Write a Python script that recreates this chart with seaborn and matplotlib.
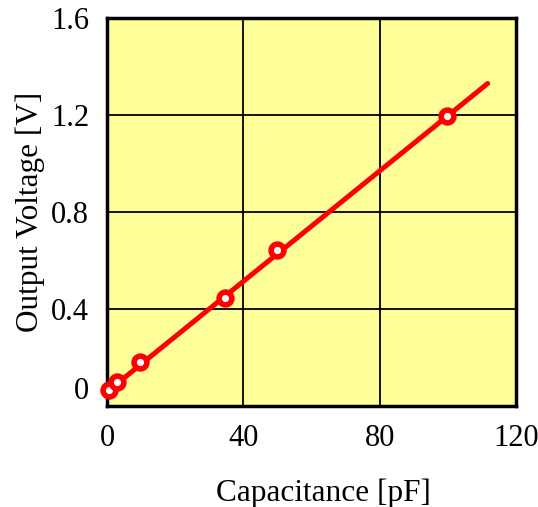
import matplotlib
matplotlib.use("Agg")
import matplotlib.pyplot as plt
import matplotlib.transforms as mtransforms
import seaborn as sns
import pandas as pd

# Data
capacitance = [0.6, 2.9, 9.7, 34.6, 49.9, 99.7]
voltage = [0.066, 0.10, 0.18, 0.445, 0.643, 1.196]
fit_x = [0.6, 111.7]
fit_y = [0.066, 1.33]
x_ticks = [0, 40, 80, 120]
y_ticks = [0, 0.4, 0.8, 1.2, 1.6]
y_tick_labels = ["0", "0.4", "0.8", "1.2", "1.6"]

sns.set_style("white")
plt.rcParams['font.family'] = ['Liberation Serif', 'DejaVu Serif']
plt.rcParams['text.color'] = 'black'
plt.rcParams['axes.labelcolor'] = 'black'

fig = plt.figure(figsize=(5.38, 5.07), dpi=100)
ax = fig.add_axes([0.199, 0.199, 0.760, 0.7655])
ax.set_facecolor("#FFFF99")

pts = pd.DataFrame({"x": capacitance, "y": voltage})
fit = pd.DataFrame({"x": fit_x, "y": fit_y})

sns.lineplot(data=fit, x="x", y="y", ax=ax, color="#FF0000", linewidth=3.6, zorder=3)
sns.scatterplot(data=pts, x="x", y="y", ax=ax, s=85, facecolor="white",
                edgecolor="#FF0000", linewidth=4.0, zorder=4, clip_on=False)

ax.set_xlim(0, 120)
ax.set_ylim(0, 1.6)
ax.set_xticks(x_ticks)
ax.set_yticks(y_ticks)
ax.set_yticklabels(y_tick_labels)
ax.grid(True, color="black", linewidth=1.3)
ax.set_axisbelow(True)
for s in ax.spines.values():
    s.set_color("black")
    s.set_linewidth(2.5)
    s.set_visible(True)
ax.tick_params(axis="both", length=0, labelsize=22, colors="black")
ax.tick_params(axis="x", pad=13)
ax.tick_params(axis="y", pad=13)
ax.set_xlabel("Capacitance [pF]", fontsize=22.5, labelpad=18, color="black")
ax.set_ylabel("Output Voltage [V]", fontsize=22.5, labelpad=4, color="black")
ax.xaxis.label.set_x(0.528)

# the "0" on the y axis sits a little above the baseline in the reference
lbl0 = ax.get_yticklabels()[0]
lbl0.set_transform(lbl0.get_transform() +
                   mtransforms.ScaledTranslation(0, 18 / 100, fig.dpi_scale_trans))

fig.savefig("out.png", dpi=100)
